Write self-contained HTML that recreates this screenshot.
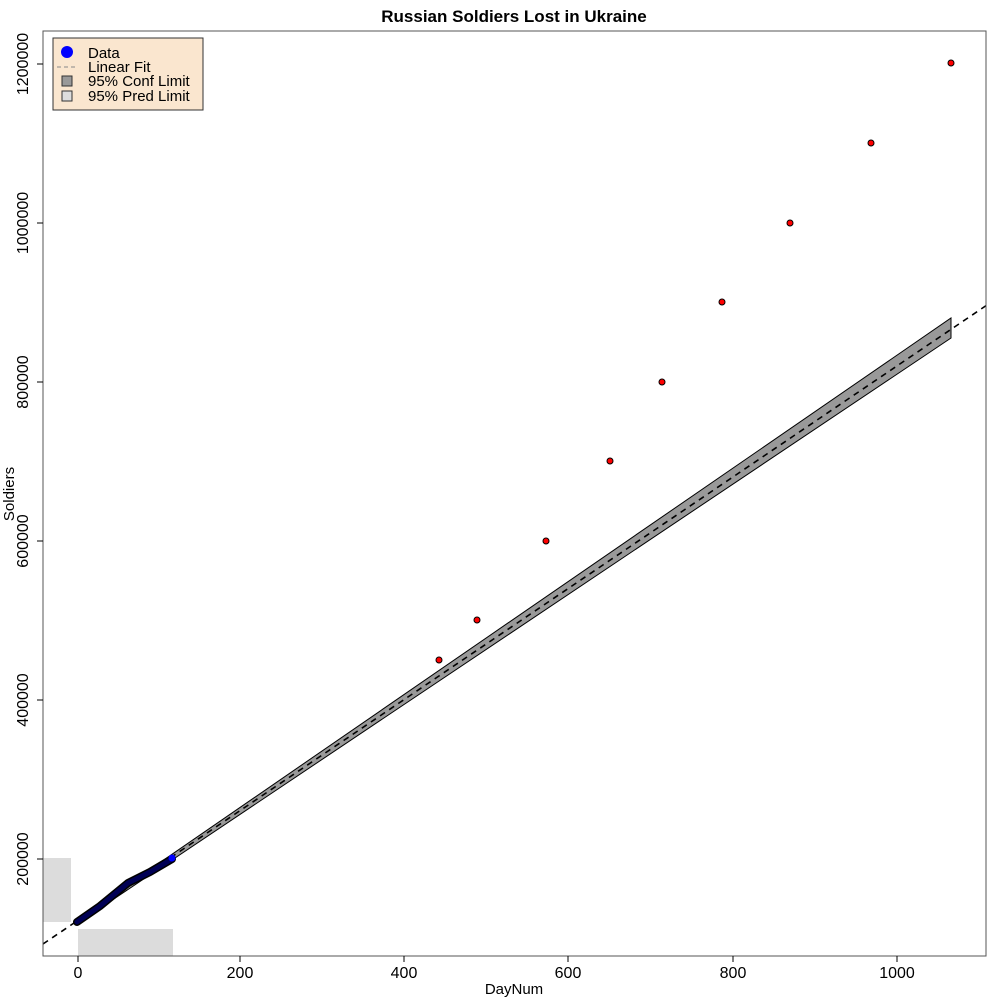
<!DOCTYPE html>
<html><head><meta charset="utf-8"><style>body{margin:0;background:#fff}svg{display:block}text{font-family:"Liberation Sans",sans-serif}</style></head>
<body>
<svg width="1000" height="1000" viewBox="0 0 1000 1000">
<text x="514" y="22" font-size="17" font-weight="bold" text-anchor="middle">Russian Soldiers Lost in Ukraine</text>
<defs><clipPath id="c"><rect x="43" y="31" width="943" height="925"/></clipPath></defs>
<g clip-path="url(#c)">
<rect x="43" y="858" width="28" height="64" fill="#dcdcdc"/>
<rect x="78" y="929" width="95" height="28" fill="#dcdcdc"/>
<polygon points="78,919 951,318 951,338 78,923" fill="#999" stroke="#000" stroke-width="1"/>
<line x1="43" y1="944" x2="987" y2="305" stroke="#000" stroke-width="1.6" stroke-dasharray="6,5"/>
<polyline points="77,922 100,906 128,883 150,872 172,859" fill="none" stroke="#000" stroke-width="8" stroke-linecap="round"/>
<polyline points="77,922 100,906 128,883 150,872 172,859" fill="none" stroke="#000055" stroke-width="5" stroke-linecap="round"/>
<circle cx="172" cy="858" r="3.5" fill="#00f"/>
<g fill="#f00" stroke="#000" stroke-width="1">
<circle cx="439" cy="660" r="3"/><circle cx="477" cy="620" r="3"/><circle cx="546" cy="541" r="3"/><circle cx="610" cy="461" r="3"/><circle cx="662" cy="382" r="3"/><circle cx="722" cy="302" r="3"/><circle cx="790" cy="223" r="3"/><circle cx="871" cy="143" r="3"/><circle cx="951" cy="63" r="3"/>
</g>
</g>
<rect x="43" y="31" width="943" height="925" fill="none" stroke="#555" stroke-width="1"/>
<g stroke="#000"><line x1="78" y1="956" x2="78" y2="962"/><line x1="240" y1="956" x2="240" y2="962"/><line x1="404" y1="956" x2="404" y2="962"/><line x1="568" y1="956" x2="568" y2="962"/><line x1="733" y1="956" x2="733" y2="962"/><line x1="897" y1="956" x2="897" y2="962"/>
<line x1="37" y1="859" x2="43" y2="859"/><line x1="37" y1="700" x2="43" y2="700"/><line x1="37" y1="541" x2="43" y2="541"/><line x1="37" y1="382" x2="43" y2="382"/><line x1="37" y1="223" x2="43" y2="223"/><line x1="37" y1="64" x2="43" y2="64"/></g>
<g font-size="16" text-anchor="middle"><text x="78" y="978">0</text><text x="240" y="978">200</text><text x="404" y="978">400</text><text x="568" y="978">600</text><text x="733" y="978">800</text><text x="897" y="978">1000</text>
<text x="514" y="994" font-size="15">DayNum</text></g>
<g font-size="16" text-anchor="middle">
<text transform="translate(28,859) rotate(-90)">200000</text><text transform="translate(28,700) rotate(-90)">400000</text><text transform="translate(28,541) rotate(-90)">600000</text><text transform="translate(28,382) rotate(-90)">800000</text><text transform="translate(28,223) rotate(-90)">1000000</text><text transform="translate(28,64) rotate(-90)">1200000</text>
<text transform="translate(14,494) rotate(-90)" font-size="15">Soldiers</text></g>
<rect x="53" y="38" width="150" height="72" fill="#fae6cf" stroke="#333"/>
<circle cx="67" cy="52" r="6" fill="#00f"/>
<line x1="57" y1="67" x2="78" y2="67" stroke="#888" stroke-dasharray="4,3"/>
<rect x="62" y="76" width="10" height="10" fill="#999" stroke="#333"/>
<rect x="62" y="91" width="10" height="10" fill="#ddd" stroke="#333"/>
<g font-size="15"><text x="88" y="58">Data</text><text x="88" y="72">Linear Fit</text><text x="88" y="86">95% Conf Limit</text><text x="88" y="101">95% Pred Limit</text></g>
</svg>
</body></html>
